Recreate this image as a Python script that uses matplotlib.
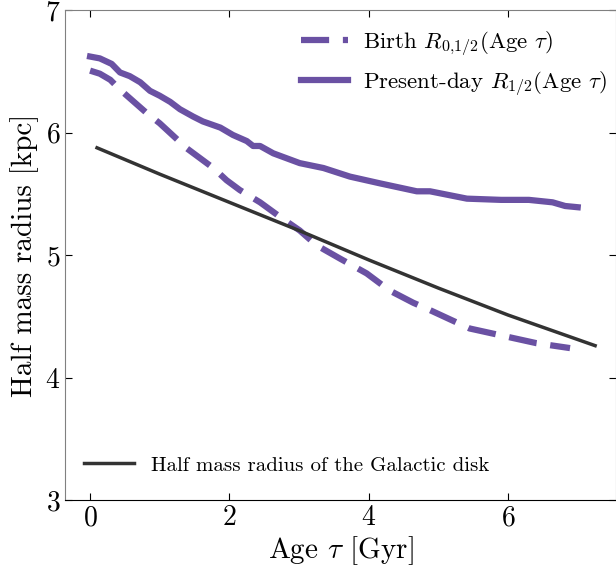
import numpy as np
import matplotlib
matplotlib.use("Agg")
import matplotlib.pyplot as plt

plt.rcParams['font.family'] = 'serif'
plt.rcParams['font.serif'] = ['cmr10', 'DejaVu Serif']
plt.rcParams['mathtext.fontset'] = 'cm'
plt.rcParams['axes.formatter.use_mathtext'] = True

# present-day half mass radius vs age
age_now = [0.0, 0.14, 0.31, 0.43, 0.57, 0.72, 0.86, 1.00, 1.15, 1.29, 1.48, 1.62,
           1.87, 2.05, 2.25, 2.34, 2.44, 2.63, 3.01, 3.35, 3.73, 4.16, 4.69, 4.88,
           5.41, 5.90, 6.30, 6.64, 6.82, 7.00]
r_now = [6.62, 6.605, 6.56, 6.49, 6.46, 6.41, 6.34, 6.30, 6.25, 6.19, 6.13, 6.09,
         6.04, 5.98, 5.93, 5.89, 5.89, 5.83, 5.75, 5.71, 5.64, 5.585, 5.52, 5.52,
         5.46, 5.45, 5.45, 5.43, 5.40, 5.39]

# birth half mass radius vs age
age_birth = [0.0, 0.14, 0.29, 0.43, 0.57, 0.81, 1.00, 1.20, 1.39, 1.58, 1.77, 1.96,
             2.15, 2.44, 2.73, 3.01, 3.25, 3.59, 3.97, 4.30, 4.64, 4.88, 5.45, 5.93,
             6.41, 6.89]
r_birth = [6.505, 6.48, 6.43, 6.35, 6.28, 6.16, 6.075, 5.97, 5.87, 5.79, 5.71, 5.61,
           5.53, 5.43, 5.31, 5.20, 5.08, 4.97, 4.85, 4.71, 4.61, 4.55, 4.40, 4.34,
           4.28, 4.24]

# galactic disk half mass radius
age_disk = [0.1, 1.0, 2.0, 3.0, 4.0, 5.0, 6.0, 7.25]
r_disk = [5.875, 5.66, 5.43, 5.20, 4.96, 4.73, 4.51, 4.26]

purple = '#6a51a3'

fig = plt.figure(figsize=(6.16, 5.66), dpi=100)
ax = fig.add_axes([65 / 616, 66 / 566, 551 / 616, 490 / 566])

l1, = ax.plot(age_birth, r_birth, color=purple, lw=4.5, ls=(0, (4.5, 2.2)),
              label=r'Birth $R_{0{,}1/2}$(Age $\tau$)')
l2, = ax.plot(age_now, r_now, color=purple, lw=4.5,
              label=r'Present-day $R_{1/2}$(Age $\tau$)')
l3, = ax.plot(age_disk, r_disk, color='#333333', lw=2.5,
              label='Half mass radius of the Galactic disk')

leg1 = ax.legend(handles=[l1, l2], loc='upper right', frameon=False, fontsize=16.5,
                 handlelength=2.05, handletextpad=0.65, borderaxespad=0.0,
                 bbox_to_anchor=(1.0, 0.98))
ax.add_artist(leg1)
ax.legend(handles=[l3], loc='lower left', frameon=False, fontsize=15,
          handlelength=2.4, handletextpad=0.8, borderaxespad=0.0,
          bbox_to_anchor=(0.02, 0.035))

ax.set_xlim(-0.36, 7.55)
ax.set_ylim(3, 7)
ax.set_xticks([0, 2, 4, 6])
ax.set_yticks([3, 4, 5, 6, 7])
ax.tick_params(direction='in', top=True, right=True, labelsize=20, length=5)
ax.set_xlabel(r'Age $\tau$ [Gyr]', fontsize=21, labelpad=2)
ax.set_ylabel('Half mass radius [kpc]', fontsize=21, labelpad=4)
for side in ['left', 'top', 'right']:
    ax.spines[side].set_color('#808080')
ax.spines['bottom'].set_color('black')

fig.savefig('out.png', dpi=100)
